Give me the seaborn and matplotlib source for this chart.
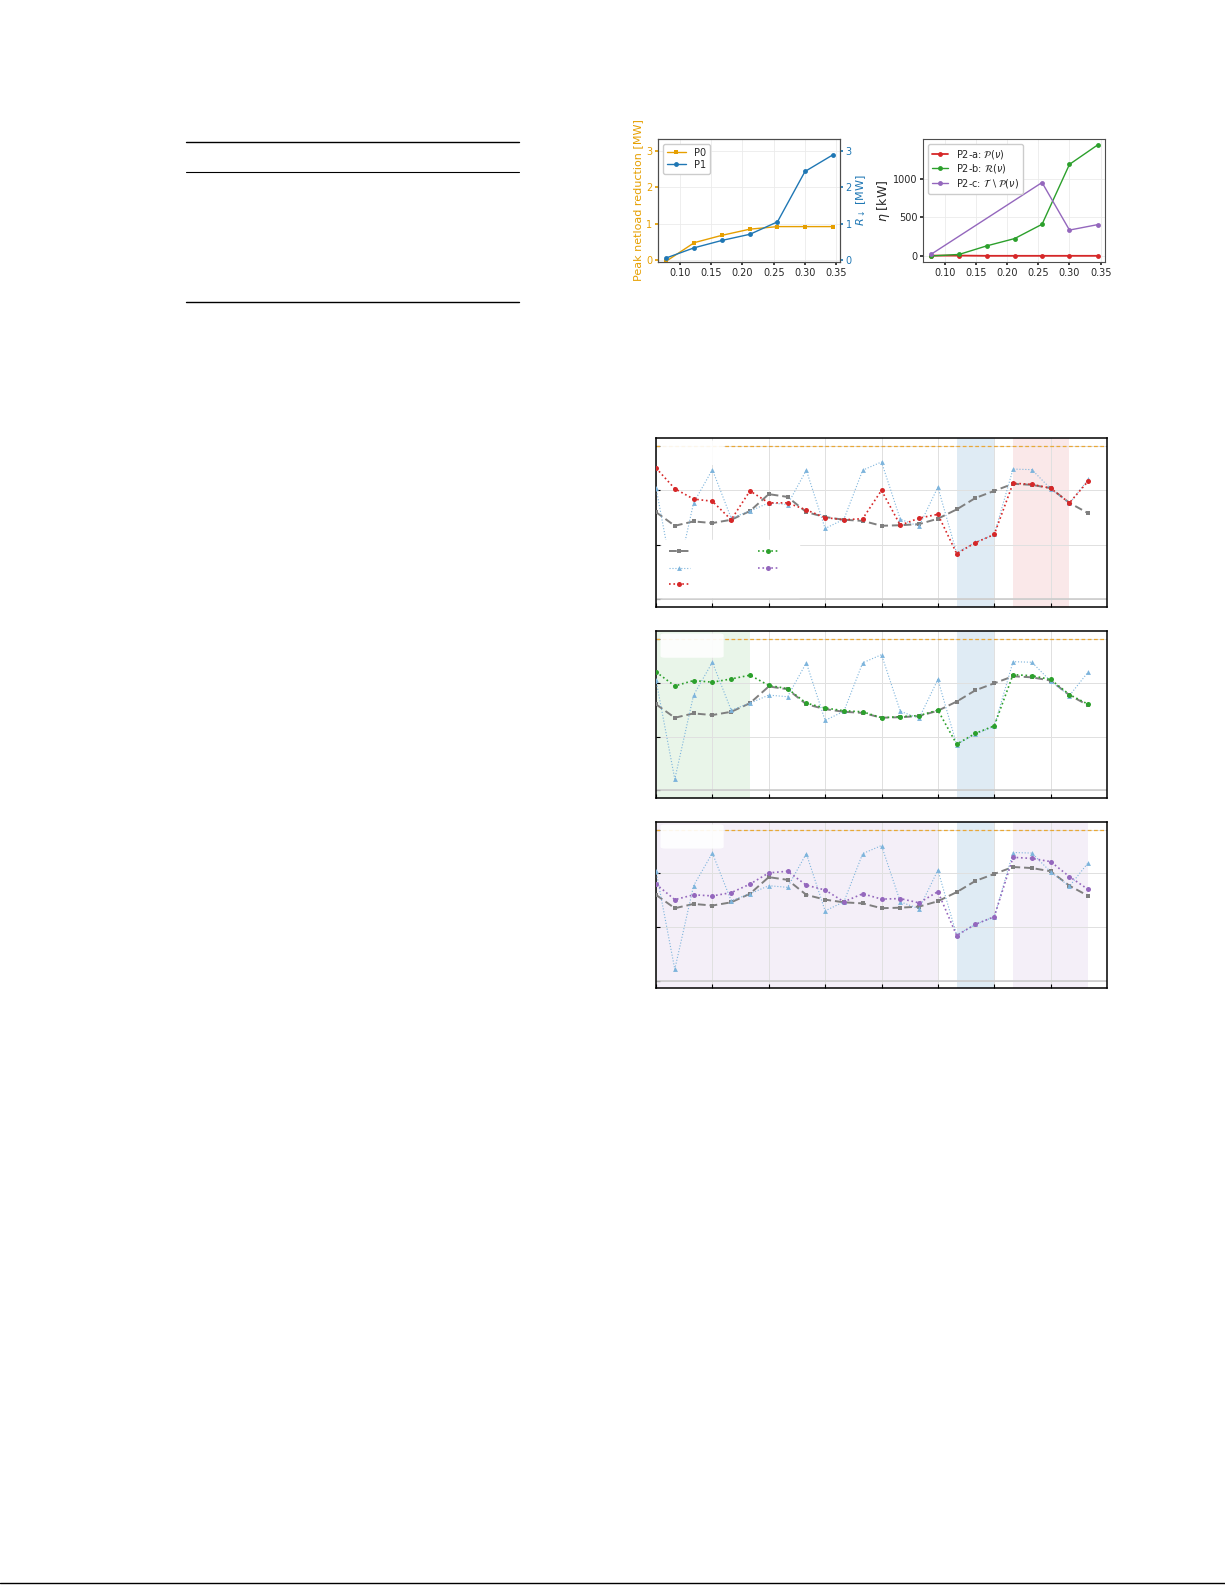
import matplotlib
matplotlib.use("Agg")
import matplotlib.pyplot as plt
import seaborn as sns
from matplotlib.lines import Line2D
from matplotlib.patches import FancyBboxPatch

# ---- top left: peak netload reduction (P0) and R_down (P1) ----
share = [0.078, 0.123, 0.167, 0.212, 0.256, 0.300, 0.345]
p0_reduction = [-0.03, 0.48, 0.68, 0.85, 0.92, 0.92, 0.92]
p1_r_down = [0.06, 0.34, 0.54, 0.71, 1.05, 2.43, 2.89]

# ---- top right: eta [kW] ----
eta_a = [5, 5, 2, 2, 2, 2, 2]
eta_b = [0, 20, 130, 225, 410, 1185, 1435]
share_c = [0.078, 0.256, 0.300, 0.345]
eta_c = [22, 950, 335, 405]

# ---- bottom: hourly profiles ----
hours = list(range(24))
base = [1.60, 1.35, 1.43, 1.40, 1.46, 1.62, 1.93, 1.88, 1.60, 1.51, 1.46, 1.44,
        1.35, 1.36, 1.38, 1.48, 1.65, 1.86, 1.99, 2.12, 2.10, 2.04, 1.77, 1.58]
uncontrolled = [2.05, 0.21, 1.77, 2.38, 1.49, 1.62, 1.77, 1.74, 2.37, 1.30, 1.47, 2.37,
                2.52, 1.47, 1.34, 2.06, 0.85, 1.05, 1.19, 2.39, 2.38, 2.03, 1.76, 2.20]
p2a_load = [2.41, 2.03, 1.84, 1.80, 1.46, 1.99, 1.77, 1.77, 1.64, 1.50, 1.46, 1.48,
            2.00, 1.36, 1.49, 1.56, 0.84, 1.04, 1.19, 2.13, 2.11, 2.04, 1.77, 2.17]
p2b_load = [2.20, 1.94, 2.04, 2.01, 2.07, 2.14, 1.95, 1.89, 1.62, 1.53, 1.48, 1.46,
            1.35, 1.37, 1.39, 1.49, 0.86, 1.06, 1.20, 2.15, 2.13, 2.06, 1.78, 1.60]
p2c_load = [1.80, 1.51, 1.60, 1.58, 1.64, 1.80, 2.01, 2.04, 1.78, 1.69, 1.47, 1.62,
            1.52, 1.53, 1.45, 1.66, 0.84, 1.05, 1.19, 2.30, 2.28, 2.22, 1.94, 1.70]
capacity = 2.81

ORANGE = "#E69F00"
BLUE = "#1f77b4"
RED = "#d62728"
GREEN = "#2ca02c"
PURPLE = "#9467bd"
GRAY = "#7f7f7f"
LIGHTBLUE = "#7db4dc"

sns.set_theme(style="whitegrid")
plt.rcParams.update({
    "font.family": ["DejaVu Sans"],
    "axes.edgecolor": "0.3",
    "axes.linewidth": 0.8,
    "grid.color": "0.92",
    "grid.linewidth": 0.6,
    "xtick.labelsize": 7,
    "ytick.labelsize": 7,
    "xtick.major.size": 2,
    "ytick.major.size": 2,
    "xtick.major.pad": 2,
    "ytick.major.pad": 2,
    "xtick.bottom": True,
    "ytick.left": True,
})

W, H = 1225, 1585
fig = plt.figure(figsize=(W / 100, H / 100), dpi=100)


def box(x0, y0, x1, y1):
    return [x0 / W, 1 - y1 / H, (x1 - x0) / W, (y1 - y0) / H]


# table rules
for y, lw in [(142, 1.0), (172, 0.8), (302, 1.0)]:
    fig.add_artist(Line2D([186 / W, 519 / W], [1 - y / H, 1 - y / H], color="black", lw=lw))
# page footer rule
fig.add_artist(Line2D([0, 1], [1 - 1583 / H, 1 - 1583 / H], color="black", lw=1.0))

# ---- plot A ----
axA = fig.add_axes(box(658, 139, 840, 262))
sns.lineplot(x=share, y=p0_reduction, ax=axA, color=ORANGE, marker="s", markersize=3.5,
             mec=ORANGE, mew=0, lw=1, legend=False)
axR = axA.twinx()
sns.lineplot(x=share, y=p1_r_down, ax=axR, color=BLUE, marker="o", markersize=3.5,
             mec=BLUE, mew=0, lw=1, legend=False)
for a in (axA, axR):
    a.set_ylim(-0.05, 3.32)
    a.set_yticks([0, 1, 2, 3])
    a.set_xlim(0.065, 0.356)
axR.grid(False)
axR.tick_params(axis="y", colors=BLUE, right=True, length=2)
axA.tick_params(axis="y", colors=ORANGE)
axA.set_xticks([0.10, 0.15, 0.20, 0.25, 0.30, 0.35])
axA.set_ylabel("Peak netload reduction [MW]", color=ORANGE, fontsize=8, labelpad=2)
axR.set_ylabel(r"$R_\downarrow$ [MW]", color=BLUE, fontsize=8, labelpad=2)
axA.legend([axA.lines[0], axR.lines[0]], ["P0", "P1"], loc="upper left", fontsize=7,
           handlelength=2.0, borderpad=0.4, labelspacing=0.2, framealpha=1,
           edgecolor="0.8", fancybox=True)

# ---- plot B ----
axB = fig.add_axes(box(923, 139, 1105, 262))
sns.lineplot(x=share, y=eta_a, ax=axB, color=RED, marker="o", markersize=3.5, mec=RED,
             mew=0, lw=1.3, legend=False)
sns.lineplot(x=share, y=eta_b, ax=axB, color=GREEN, marker="o", markersize=3.5, mec=GREEN,
             mew=0, lw=1, legend=False)
sns.lineplot(x=share_c, y=eta_c, ax=axB, color=PURPLE, marker="o", markersize=3.5,
             mec=PURPLE, mew=0, lw=1, legend=False)
axB.set_xlim(0.065, 0.357)
axB.set_ylim(-78, 1513)
axB.set_yticks([0, 500, 1000])
axB.set_xticks([0.10, 0.15, 0.20, 0.25, 0.30, 0.35])
axB.set_ylabel(r"$\eta$ [kW]", fontsize=9, labelpad=1)
axB.legend(axB.lines[:3],
           [r"P2-a: $\mathcal{P}(\nu)$", r"P2-b: $\mathcal{R}(\nu)$",
            r"P2-c: $\mathcal{T} \setminus \mathcal{P}(\nu)$"],
           loc="upper left", fontsize=7, handlelength=1.7, borderpad=0.4,
           labelspacing=0.15, framealpha=1, edgecolor="0.8")

# ---- hourly panels ----
panels = [
    (box(656, 438, 1107, 607), p2a_load, RED, [(16, 18, BLUE, 0.14), (19, 22, RED, 0.1)]),
    (box(656, 631, 1107, 798), p2b_load, GREEN, [(0, 5, GREEN, 0.1), (16, 18, BLUE, 0.14)]),
    (box(656, 822, 1107, 988), p2c_load, PURPLE,
     [(0, 15, PURPLE, 0.1), (16, 18, BLUE, 0.14), (19, 23, PURPLE, 0.1)]),
]

for i, (pos, load, col, spans) in enumerate(panels):
    ax = fig.add_axes(pos)
    for x0, x1, c, a in spans:
        ax.axvspan(x0, x1, color=c, alpha=a, lw=0, zorder=0)
    ax.axhline(0, color="0.8", lw=1.2, zorder=1)
    ax.axhline(capacity, color="#E8A838", lw=0.9, ls=(0, (3, 2)), zorder=2)
    sns.lineplot(x=hours, y=base, ax=ax, color=GRAY, marker="s", markersize=3.2, mec=GRAY,
                 mew=0, lw=1.4, linestyle=(0, (4, 2)), legend=False, zorder=3)
    sns.lineplot(x=hours, y=uncontrolled, ax=ax, color=LIGHTBLUE, marker="^", markersize=3.5,
                 mec=LIGHTBLUE, mew=0, lw=0.8, linestyle=":", legend=False, zorder=3)
    sns.lineplot(x=hours, y=load, ax=ax, color=col, marker="o", markersize=3.6, mec=col,
                 mew=0, lw=1.2, linestyle=":", legend=False, zorder=4)
    ax.set_xlim(0, 24)
    ax.set_ylim(-0.14, 2.96)
    ax.set_xticks(range(0, 24, 3))
    ax.set_yticks([0, 1, 2, capacity])
    ax.set_xticklabels([])
    ax.set_yticklabels([])
    ax.tick_params(direction="in", length=3, width=0.8, colors="black")
    ax.grid(True, color="0.88", lw=0.7)
    for s in ax.spines.values():
        s.set_color("black")
        s.set_linewidth(1.1)
    ax.add_patch(FancyBboxPatch((0.01, 0.84), 0.14, 0.145, transform=ax.transAxes,
                                boxstyle="round,pad=0,rounding_size=0.01",
                                fc="white", ec="none", alpha=0.9, zorder=6))
    if i == 0:
        g, b, c = ax.lines[2], ax.lines[3], ax.lines[4]
        extra = [Line2D([], [], color=GREEN, marker="o", markersize=3.6, mew=0, lw=1.2, ls=":"),
                 Line2D([], [], color=PURPLE, marker="o", markersize=3.6, mew=0, lw=1.2, ls=":")]
        ax.legend([g, b, c] + extra, [" "] * 5, ncol=2, loc="lower left",
                  bbox_to_anchor=(0.0, 0.02), fontsize=9, handlelength=1.7,
                  columnspacing=4.3, labelspacing=0.25, borderpad=0.5,
                  framealpha=1, edgecolor="white", fancybox=False)

fig.savefig("out.png", dpi=100, facecolor="white")
